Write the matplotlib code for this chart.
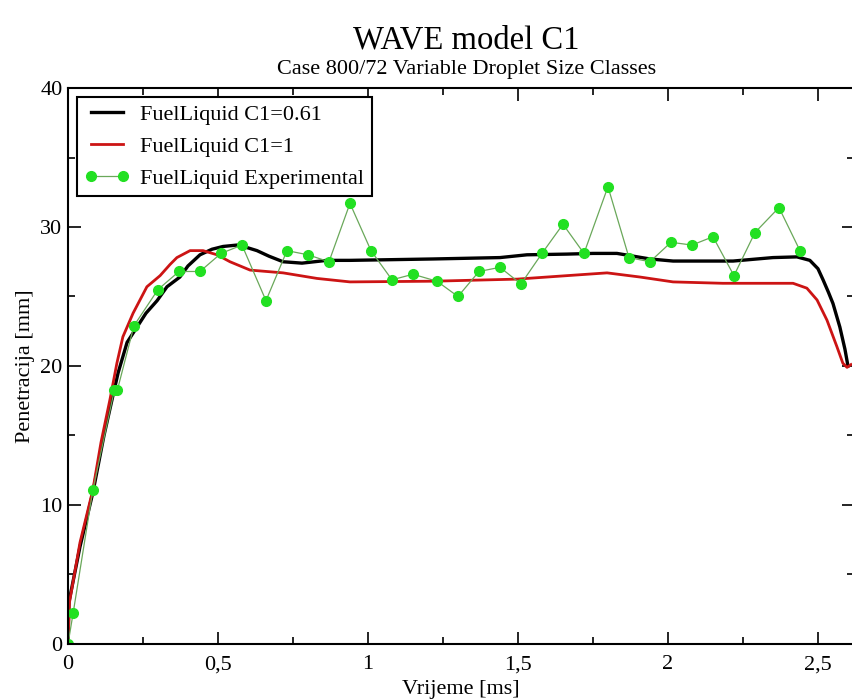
import numpy as np
import matplotlib
matplotlib.use("Agg")
import matplotlib.pyplot as plt

plt.rcParams['font.family'] = ['Liberation Serif', 'DejaVu Serif']

# FuelLiquid C1=0.61
t_c061 = [0.0, 0.003, 0.04, 0.083, 0.12, 0.147, 0.167, 0.197, 0.23, 0.26, 0.297, 0.33,
          0.373, 0.40, 0.44, 0.48, 0.517, 0.563, 0.60, 0.63, 0.67, 0.717, 0.78, 0.863,
          0.94, 1.217, 1.44, 1.53, 1.663, 1.75, 1.83, 1.94, 2.017, 2.217, 2.35, 2.43,
          2.473, 2.50, 2.517, 2.535, 2.55, 2.573, 2.59, 2.60]
y_c061 = [0.0, 3.0, 7.0, 10.9, 15.0, 17.6, 19.5, 21.7, 22.8, 23.8, 24.7, 25.7,
          26.4, 27.2, 28.0, 28.4, 28.6, 28.7, 28.5, 28.3, 27.9, 27.5, 27.4, 27.6,
          27.6, 27.7, 27.8, 28.0, 28.05, 28.1, 28.1, 27.7, 27.55, 27.55, 27.8, 27.85,
          27.6, 27.0, 26.2, 25.3, 24.5, 22.8, 21.2, 20.0]

# FuelLiquid C1=1
t_c1 = [0.0, 0.005, 0.04, 0.083, 0.11, 0.14, 0.163, 0.183, 0.217, 0.263, 0.307, 0.34,
        0.363, 0.407, 0.45, 0.497, 0.54, 0.607, 0.717, 0.83, 0.94, 1.217, 1.497, 1.663,
        1.797, 1.907, 2.017, 2.183, 2.417, 2.463, 2.497, 2.53, 2.563, 2.583, 2.597, 2.61]
y_c1 = [0.0, 3.0, 7.3, 11.1, 14.5, 17.6, 20.2, 22.1, 23.8, 25.7, 26.5, 27.3,
        27.8, 28.3, 28.3, 28.0, 27.5, 26.9, 26.7, 26.3, 26.05, 26.1, 26.25, 26.5,
        26.7, 26.4, 26.05, 25.95, 25.95, 25.6, 24.75, 23.3, 21.4, 20.2, 19.9, 20.1]

# FuelLiquid Experimental
t_exp = [0.0, 0.017, 0.083, 0.155, 0.165, 0.22, 0.30, 0.37, 0.44, 0.51, 0.58, 0.66,
         0.73, 0.80, 0.87, 0.94, 1.01, 1.08, 1.15, 1.23, 1.30, 1.37, 1.44, 1.51,
         1.58, 1.65, 1.72, 1.80, 1.87, 1.94, 2.01, 2.08, 2.15, 2.22, 2.29, 2.37, 2.44]
y_exp = [0.0, 2.2, 11.1, 18.3, 18.3, 22.9, 25.5, 26.8, 26.8, 28.1, 28.7, 24.7,
         28.3, 28.0, 27.5, 31.7, 28.3, 26.2, 26.6, 26.1, 25.0, 26.8, 27.1, 25.9,
         28.1, 30.2, 28.1, 32.9, 27.8, 27.5, 28.9, 28.7, 29.3, 26.5, 29.6, 31.4, 28.3]

x_ticks = [0, 0.5, 1, 1.5, 2, 2.5]
x_tick_labels = ['0', '0,5', '1', '1,5', '2', '2,5']
y_ticks = [0, 10, 20, 30, 40]

fig = plt.figure(figsize=(8.52, 6.99), dpi=100)
ax = fig.add_axes([0.0798, 0.0787, 0.9225, 0.7954])

ax.plot(t_c061, y_c061, color='black', lw=2.4, label='FuelLiquid C1=0.61')
ax.plot(t_c1, y_c1, color='#cc1414', lw=2.0, label='FuelLiquid C1=1')
ax.plot(t_exp, y_exp, color='#6aa85a', lw=0.9, marker='o', ms=7,
        mfc='#22e022', mec='#22e022', label='FuelLiquid Experimental')

ax.set_xlim(0, 2.62)
ax.set_ylim(0, 40)
ax.set_xticks(x_ticks)
ax.set_xticklabels(x_tick_labels)
ax.set_xticks(np.arange(0.25, 2.6, 0.5), minor=True)
ax.set_yticks(y_ticks)
ax.set_yticks([5, 15, 25, 35], minor=True)
ax.tick_params(which='both', direction='in', top=True, right=True, labelsize=16, width=1.2)
ax.tick_params(which='major', length=9)
ax.tick_params(which='minor', length=5)
ax.tick_params(axis='x', pad=8)
ax.tick_params(axis='y', pad=4)
for s in ax.spines.values():
    s.set_linewidth(1.5)

ax.set_xlabel('Vrijeme [ms]', fontsize=16, labelpad=4)
ax.set_ylabel('Penetracija [mm]', fontsize=16, labelpad=4)

fig.text(0.547, 0.942, 'WAVE model C1', fontsize=23.5, ha='center', va='center')
fig.text(0.548, 0.900, 'Case 800/72 Variable Droplet Size Classes', fontsize=16, ha='center', va='center')

leg = ax.legend(loc='upper left', bbox_to_anchor=(0.0115, 0.984), borderaxespad=0,
                fontsize=16, fancybox=False, framealpha=1, edgecolor='black', numpoints=2,
                handlelength=2.0, labelspacing=0.5, borderpad=0.35, handletextpad=0.5)
leg.get_frame().set_linewidth(1.5)

fig.savefig('out.png', dpi=100)
